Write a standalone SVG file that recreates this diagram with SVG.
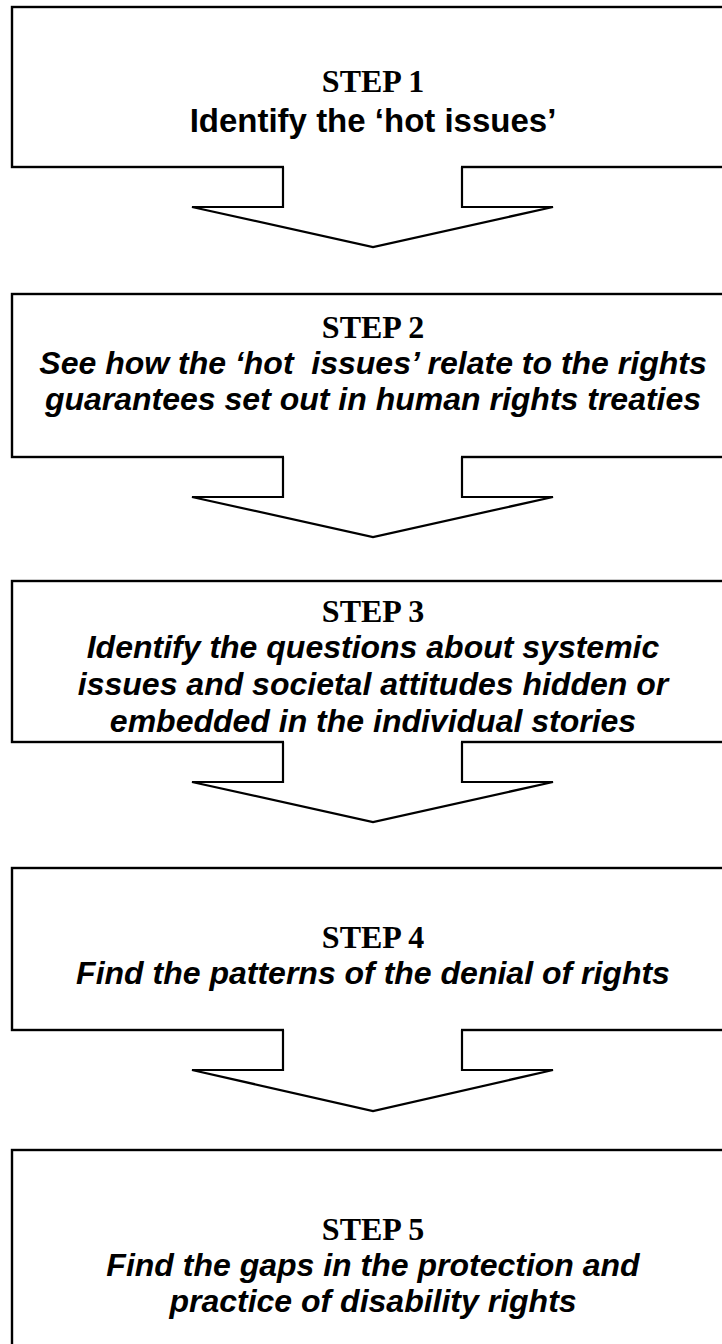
<svg xmlns="http://www.w3.org/2000/svg" width="722" height="1344" viewBox="0 0 722 1344">
  <style>
    .box { fill: #ffffff; stroke: #000000; stroke-width: 2.4; }
    .arrow-fill { fill: #ffffff; stroke: none; }
    .arrow-line { fill: none; stroke: #000000; stroke-width: 2.2; stroke-linejoin: miter; }
    .step { font-family: "Liberation Serif", "Times New Roman", serif; font-weight: bold; font-size: 32px; text-anchor: middle; fill: #000000; }
    .desc { font-family: "Liberation Sans", Arial, sans-serif; font-weight: bold; font-size: 32px; text-anchor: middle; fill: #000000; }
    .it { font-style: italic; }
  </style>
  <rect x="0" y="0" width="722" height="1344" fill="#ffffff"/>

  <!-- step boxes -->
  <g id="step1">
    <rect class="box" x="12" y="7" width="722" height="160"/>
    <text class="step" x="373" y="92">STEP 1</text>
    <text class="desc" x="373" y="132" style="font-size:33px">Identify the ‘hot issues’</text>
  </g>
  <g id="step2">
    <rect class="box" x="12" y="294" width="722" height="163"/>
    <text class="step" x="373" y="338">STEP 2</text>
    <text class="desc it" x="373" y="374" xml:space="preserve">See how the ‘hot  issues’ relate to the rights</text>
    <text class="desc it" x="373" y="410">guarantees set out in human rights treaties</text>
  </g>
  <g id="step3">
    <rect class="box" x="12" y="581" width="722" height="161"/>
    <text class="step" x="373" y="622">STEP 3</text>
    <text class="desc it" x="373" y="658">Identify the questions about systemic</text>
    <text class="desc it" x="373" y="695">issues and societal attitudes hidden or</text>
    <text class="desc it" x="373" y="732">embedded in the individual stories</text>
  </g>
  <g id="step4">
    <rect class="box" x="12" y="868" width="722" height="162"/>
    <text class="step" x="373" y="948">STEP 4</text>
    <text class="desc it" x="373" y="984">Find the patterns of the denial of rights</text>
  </g>
  <g id="step5">
    <rect class="box" x="12" y="1150" width="722" height="210"/>
    <text class="step" x="373" y="1240">STEP 5</text>
    <text class="desc it" x="373" y="1276">Find the gaps in the protection and</text>
    <text class="desc it" x="373" y="1312">practice of disability rights</text>
  </g>

  <!-- block arrows between steps -->
  <g id="connectors">
    <g id="arrow1-2">
      <polygon class="arrow-fill" points="284,164 461,164 461,207 553,207 373,247 192,207 284,207"/>
      <polyline class="arrow-line" points="283,167 283,207 192,207 373,247 553,207 462,207 462,167"/>
    </g>
    <g id="arrow2-3">
      <polygon class="arrow-fill" points="284,454 461,454 461,497 553,497 373,537 192,497 284,497"/>
      <polyline class="arrow-line" points="283,457 283,497 192,497 373,537 553,497 462,497 462,457"/>
    </g>
    <g id="arrow3-4">
      <polygon class="arrow-fill" points="284,739 461,739 461,782 553,782 373,822 192,782 284,782"/>
      <polyline class="arrow-line" points="283,742 283,782 192,782 373,822 553,782 462,782 462,742"/>
    </g>
    <g id="arrow4-5">
      <polygon class="arrow-fill" points="284,1027 461,1027 461,1070 553,1070 373,1111 192,1070 284,1070"/>
      <polyline class="arrow-line" points="283,1030 283,1070 192,1070 373,1111 553,1070 462,1070 462,1030"/>
    </g>
  </g>
</svg>
